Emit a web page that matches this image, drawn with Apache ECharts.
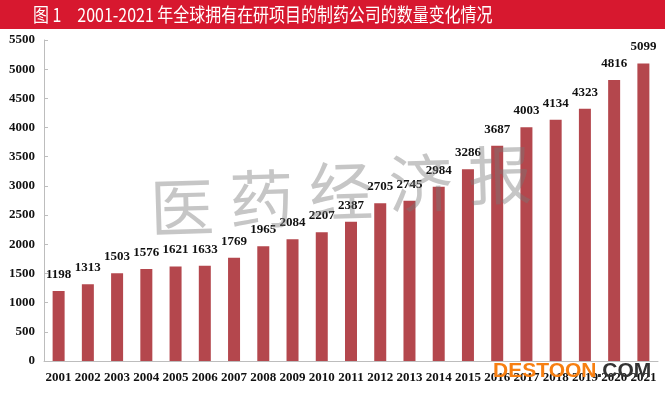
<!DOCTYPE html>
<html><head><meta charset="utf-8">
<script src="https://cdn.jsdelivr.net/npm/echarts@6/dist/echarts.min.js"></script>
<style>html,body{margin:0;padding:0;background:#fff}#c{width:665px;height:393px}</style>
</head><body><div id="c"></div>
<script>
const categories = ['2001','2002','2003','2004','2005','2006','2007','2008','2009','2010','2011','2012','2013','2014','2015','2016','2017','2018','2019','2020','2021'];
const companies = [1198,1313,1503,1576,1621,1633,1769,1965,2084,2207,2387,2705,2745,2984,3286,3687,4003,4134,4323,4816,5099];
const titleText = '图 1　2001-2021 年全球拥有在研项目的制药公司的数量变化情况';
const watermarkText = '医药经济报';

const chart = echarts.init(document.getElementById('c'), null, {renderer: 'canvas'});
const serif = '"Liberation Serif","Times New Roman",serif';
const wmChars = watermarkText.split('').map((ch, i) => ({
  type: 'text', x: 182 + i * 79.5, y: 207 - i * 8, rotation: 0.03, z: 20,
  style: {text: ch, fill: 'rgba(120,120,120,0.42)', fontSize: 64, fontFamily: '"Noto Sans CJK SC", sans-serif', fontWeight: 'normal', align: 'center', verticalAlign: 'middle'}
}));
chart.setOption({
  animation: false,
  grid: {left: 44, right: 7, top: 40, bottom: 32, containLabel: false},
  xAxis: {
    type: 'category', data: categories,
    axisLine: {lineStyle: {color: '#bdbdbd'}},
    axisTick: {inside: true, length: 4, lineStyle: {color: '#bdbdbd'}},
    axisLabel: {margin: 10, color: '#111', fontFamily: serif, fontWeight: 'bold', fontSize: 13, interval: 0}
  },
  yAxis: {
    type: 'value', min: 0, max: 5500, interval: 500,
    axisLine: {show: true, lineStyle: {color: '#bdbdbd'}},
    axisTick: {show: true, inside: true, length: 4, lineStyle: {color: '#bdbdbd'}},
    splitLine: {show: false},
    axisLabel: {margin: 9, color: '#111', fontFamily: serif, fontWeight: 'bold', fontSize: 13, formatter: v => String(v)}
  },
  series: [{
    type: 'bar', data: companies, barWidth: 12,
    itemStyle: {color: '#b4474d'},
    label: {show: true, position: 'top', distance: 10, color: '#111', fontFamily: serif, fontWeight: 'bold', fontSize: 13}
  }],
  graphic: [
    {type: 'rect', left: 0, top: 0, shape: {width: 665, height: 29}, style: {fill: '#d7182f'}, z: 10},
    {type: 'text', x: 33, y: 15, scaleX: 0.84, z: 11,
     style: {text: titleText, fill: '#fff', fontSize: 19, fontFamily: '"Noto Sans CJK SC", sans-serif', verticalAlign: 'middle'}},
    ...wmChars,
    {type: 'text', x: 493, y: 371, z: 30,
     style: {text: '{a|DESTOON}{b|.COM}', verticalAlign: 'middle',
       rich: {a: {fill: '#f77f11', fontSize: 21, fontWeight: 'bold', fontFamily: '"Liberation Sans",Arial,sans-serif'},
              b: {fill: '#333', fontSize: 21, fontWeight: 'bold', fontFamily: '"Liberation Sans",Arial,sans-serif'}}}}
  ]
});
</script></body></html>
